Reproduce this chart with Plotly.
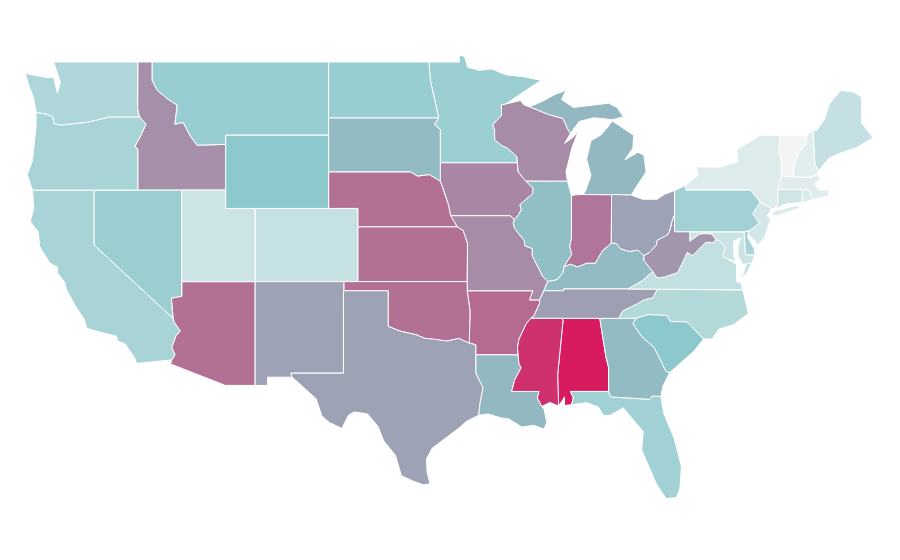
import plotly.graph_objects as go
from plotly.colors import sample_colorscale

# the geo base map has to be fetched from a CDN, so the outlines are kept here in lon/lat
# and drawn on plain linear axes (the reference map is a stretched equirectangular one)

colorscale = [[0, "#f5f5f5"], [0.45, "#8cc8cc"], [1, "#d81b60"]]

state_codes = ["AL", "AZ", "AR", "CA", "CO", "CT", "DE", "FL", "GA", "ID", "IL", "IN", "IA", "KS", "KY", "LA",
               "ME", "MD", "MA", "MI", "MN", "MS", "MO", "MT", "NE", "NV", "NH", "NJ", "NM", "NY", "NC", "ND",
               "OH", "OK", "OR", "PA", "RI", "SC", "SD", "TN", "TX", "UT", "VT", "VA", "WA", "WV", "WI", "WY"]
state_values = [1.00, 0.73, 0.75, 0.33, 0.20, 0.16, 0.33, 0.36, 0.49, 0.63, 0.48, 0.71, 0.66, 0.73, 0.49, 0.50,
                0.21, 0.18, 0.09, 0.50, 0.38, 0.93, 0.64, 0.40, 0.73, 0.39, 0.08, 0.14, 0.57, 0.10, 0.28, 0.40,
                0.57, 0.73, 0.33, 0.36, 0.11, 0.45, 0.49, 0.58, 0.57, 0.17, 0.01, 0.22, 0.30, 0.61, 0.64, 0.45]

# shared borders, lon/lat
wa_or = [(-123.95, 46.25), (-123.2, 46.15), (-122.8, 46.0), (-122.75, 45.65), (-122.3, 45.55), (-121.2, 45.65),
         (-120.5, 45.7), (-119.3, 45.93), (-118.98, 46.0), (-116.92, 46.0)]
or_id = [(-116.92, 46.0), (-116.47, 45.6), (-116.85, 44.95), (-117.22, 44.4), (-117.03, 44.2), (-117.03, 42.0)]
id_mt = [(-116.05, 49.0), (-116.05, 48.0), (-115.7, 47.45), (-114.95, 46.95), (-114.35, 46.65), (-114.5, 45.6),
         (-113.95, 45.7), (-113.45, 44.95), (-113.0, 44.45), (-111.05, 44.5)]
ca_az = [(-114.63, 35.0), (-114.57, 34.8), (-114.14, 34.3), (-114.43, 34.05), (-114.72, 33.4), (-114.5, 33.0),
         (-114.72, 32.72)]
tx_ok = [(-100.0, 34.56), (-99.2, 34.3), (-98.1, 34.1), (-97.5, 33.9), (-96.8, 33.85), (-96.0, 33.75), (-95.2, 33.9),
         (-94.48, 33.64)]
nd_mn = [(-97.23, 49.0), (-97.13, 48.0), (-96.85, 47.0), (-96.56, 45.94)]
sd_mn = [(-96.56, 45.94), (-96.85, 45.6), (-96.45, 45.3), (-96.45, 43.5)]
sd_ne = [(-98.5, 43.0), (-98.0, 42.77), (-97.2, 42.85), (-96.45, 42.49)]
ne_ia_mo = [(-96.45, 42.49), (-96.1, 41.7), (-95.9, 41.2), (-95.75, 40.6), (-95.31, 40.0)]
ks_mo = [(-95.31, 40.0), (-94.9, 39.8), (-94.6, 39.1), (-94.62, 37.0)]
mn_wi = [(-92.29, 46.66), (-92.29, 46.07), (-92.88, 45.57), (-92.76, 45.3), (-92.75, 44.75), (-92.3, 44.45),
         (-91.9, 44.3), (-91.25, 43.85), (-91.22, 43.5)]
ia_wi = [(-91.22, 43.5), (-91.15, 43.0), (-90.65, 42.5)]
ia_il = [(-90.65, 42.5), (-90.15, 42.1), (-90.18, 41.8), (-90.7, 41.45), (-91.05, 41.2), (-90.95, 40.95),
         (-91.1, 40.7), (-91.42, 40.38)]
mo_il = [(-91.42, 40.38), (-91.5, 40.2), (-91.4, 39.9), (-90.75, 39.25), (-90.7, 38.95), (-90.2, 38.8), (-90.2, 38.4),
         (-89.9, 37.9), (-89.5, 37.3), (-89.15, 37.0)]
mo_tn = [(-89.15, 37.0), (-89.4, 36.5), (-89.7, 36.0)]
tn_ar = [(-89.7, 36.0), (-89.7, 35.8), (-90.1, 35.1), (-90.3, 35.0)]
ar_ms = [(-90.3, 35.0), (-90.6, 34.7), (-90.9, 34.2), (-91.1, 33.85), (-91.2, 33.4), (-91.17, 33.0)]
la_ms = [(-91.17, 33.0), (-91.1, 32.5), (-90.95, 32.3), (-91.4, 31.6), (-91.6, 31.0), (-89.73, 31.0), (-89.85, 30.65),
         (-89.55, 30.18)]
tx_la = [(-94.04, 33.0), (-94.04, 32.0), (-93.55, 31.2), (-93.75, 30.4), (-93.85, 29.7)]
il_ky = [(-89.15, 37.0), (-88.5, 37.1), (-88.1, 37.5), (-88.05, 37.8)]
il_in = [(-88.05, 37.8), (-87.5, 38.5), (-87.65, 38.9), (-87.53, 39.35), (-87.53, 41.7)]
in_ky = [(-88.05, 37.8), (-87.6, 37.95), (-87.1, 37.8), (-86.5, 38.0), (-85.9, 38.0), (-85.7, 38.3), (-85.4, 38.7),
         (-84.82, 39.1)]
oh_ky = [(-84.82, 39.1), (-84.5, 39.1), (-84.2, 38.8), (-83.6, 38.65), (-83.0, 38.72), (-82.6, 38.42)]
oh_wv = [(-82.6, 38.42), (-82.2, 38.6), (-81.75, 39.0), (-81.7, 39.25), (-81.0, 39.55), (-80.85, 39.75), (-80.65, 40.4),
         (-80.52, 40.64)]
ky_wv = [(-82.6, 38.42), (-82.6, 38.15), (-82.0, 37.55)]
ky_va = [(-82.0, 37.55), (-82.7, 37.05), (-83.68, 36.6)]
ky_tn = [(-83.68, 36.6), (-88.07, 36.6), (-88.07, 36.5), (-89.4, 36.5)]
wv_va = [(-82.0, 37.55), (-81.7, 37.2), (-81.2, 37.25), (-80.3, 37.5), (-80.0, 38.0), (-79.65, 38.6), (-79.3, 38.42),
         (-78.87, 38.77), (-78.4, 39.15), (-77.83, 39.13), (-77.72, 39.32)]
wv_md = [(-77.72, 39.32), (-78.0, 39.6), (-78.4, 39.62), (-78.8, 39.6), (-79.05, 39.48), (-79.48, 39.2), (-79.48, 39.72)]
md_va = [(-76.3, 37.95), (-76.95, 38.25), (-77.25, 38.4), (-77.05, 38.85), (-77.45, 39.2), (-77.72, 39.32)]
tn_nc = [(-81.68, 36.59), (-82.0, 36.12), (-82.6, 36.0), (-83.1, 35.77), (-84.05, 35.4), (-84.32, 34.99)]
ga_sc = [(-83.11, 35.0), (-83.35, 34.7), (-82.75, 34.0), (-81.9, 33.4), (-81.4, 32.6), (-81.1, 32.1), (-80.85, 32.03)]
nc_sc = [(-83.11, 35.0), (-82.3, 35.2), (-81.05, 35.15), (-80.8, 34.82), (-79.67, 34.8), (-78.55, 33.86)]
al_ga = [(-85.6, 34.98), (-85.18, 32.87), (-85.0, 32.3), (-85.0, 31.0)]
al_ms = [(-88.2, 35.0), (-88.1, 34.9), (-88.47, 31.9), (-88.4, 30.2)]
al_fl = [(-85.0, 31.0), (-87.6, 31.0), (-87.4, 30.65), (-87.52, 30.28)]
ga_fl = [(-85.0, 31.0), (-84.86, 30.7), (-82.2, 30.57), (-82.05, 30.75), (-81.45, 30.72)]
pa_nj = [(-75.4, 39.8), (-74.75, 40.2), (-75.1, 40.55), (-75.2, 40.7), (-74.7, 41.35)]
vt_nh = [(-71.5, 45.0), (-71.6, 44.5), (-72.05, 44.1), (-72.4, 43.3), (-72.46, 42.73)]
mi_wi = [(-90.4, 46.55), (-89.1, 46.13), (-88.1, 45.9), (-87.8, 45.35), (-87.6, 45.1)]


def rev(points):
    return list(reversed(points))


state_outlines = {
    "WA": [[(-124.7, 48.38), (-123.2, 48.15), (-122.75, 48.15), (-122.5, 47.3), (-122.3, 47.9), (-122.5, 48.4),
            (-122.76, 49.0), (-117.03, 49.0), (-117.04, 46.42), *rev(wa_or), (-124.05, 46.7), (-124.1, 47.0),
            (-124.4, 47.6)]],
    "OR": [[*wa_or, *or_id, (-124.2, 42.0), (-124.55, 42.85), (-124.2, 43.6), (-124.05, 44.7), (-123.95, 45.5)]],
    "CA": [[(-124.2, 42.0), (-120.0, 42.0), (-120.0, 39.0), *ca_az, (-117.12, 32.53), (-117.25, 32.85), (-117.9, 33.6),
            (-118.4, 33.75), (-118.5, 34.03), (-119.2, 34.15), (-120.5, 34.45), (-120.65, 34.9), (-121.3, 35.7),
            (-121.9, 36.6), (-122.0, 36.95), (-122.5, 37.5), (-122.5, 37.8), (-123.0, 38.0), (-123.7, 38.9),
            (-123.8, 39.7), (-124.35, 40.3), (-124.1, 41.0)]],
    "NV": [[(-120.0, 42.0), (-114.04, 42.0), (-114.04, 36.2), (-114.75, 36.1), (-114.63, 35.0), (-120.0, 39.0)]],
    "ID": [[(-117.03, 49.0), *id_mt, (-111.05, 42.0), *rev(or_id), (-117.04, 46.42)]],
    "MT": [[*id_mt, (-111.05, 45.0), (-104.05, 45.0), (-104.05, 49.0)]],
    "WY": [[(-111.05, 45.0), (-104.05, 45.0), (-104.05, 41.0), (-111.05, 41.0)]],
    "UT": [[(-114.04, 42.0), (-111.05, 42.0), (-111.05, 41.0), (-109.05, 41.0), (-109.05, 37.0), (-114.04, 37.0)]],
    "CO": [[(-109.05, 41.0), (-102.05, 41.0), (-102.05, 37.0), (-109.05, 37.0)]],
    "AZ": [[(-114.04, 37.0), (-109.05, 37.0), (-109.05, 31.33), (-111.07, 31.33), (-114.8, 32.5), *rev(ca_az),
            (-114.75, 36.1), (-114.04, 36.2)]],
    "NM": [[(-109.05, 37.0), (-103.0, 37.0), (-103.04, 32.0), (-106.62, 32.0), (-106.53, 31.78), (-108.2, 31.78),
            (-108.2, 31.33), (-109.05, 31.33)]],
    "ND": [[(-104.05, 49.0), *nd_mn, (-104.05, 45.94)]],
    "SD": [[(-104.05, 45.94), *sd_mn, *rev(sd_ne), (-104.05, 43.0)]],
    "NE": [[(-104.05, 43.0), *sd_ne, *ne_ia_mo, (-102.05, 40.0), (-102.05, 41.0), (-104.05, 41.0)]],
    "KS": [[(-102.05, 40.0), *ks_mo, (-102.05, 37.0)]],
    "OK": [[(-103.0, 37.0), (-94.62, 37.0), (-94.62, 36.5), (-94.43, 35.4), *rev(tx_ok), (-100.0, 36.5),
            (-103.0, 36.5)]],
    "TX": [[(-103.04, 36.5), (-100.0, 36.5), *tx_ok, (-94.04, 33.55), *tx_la, (-94.7, 29.35), (-95.1, 29.05),
            (-96.0, 28.5), (-97.0, 27.9), (-97.4, 27.3), (-97.35, 26.6), (-97.15, 25.95), (-97.6, 25.9), (-98.3, 26.1),
            (-99.1, 26.4), (-99.5, 27.5), (-100.3, 28.3), (-100.7, 29.1), (-101.4, 29.77), (-102.3, 29.88),
            (-102.7, 29.7), (-103.15, 28.98), (-104.0, 29.3), (-104.5, 29.65), (-104.9, 30.6), (-106.0, 31.4),
            (-106.53, 31.78), (-106.62, 32.0), (-103.04, 32.0)]],
    "MN": [[(-97.23, 49.0), (-95.15, 49.0), (-95.15, 49.38), (-94.8, 49.3), (-94.6, 48.72), (-93.8, 48.55),
            (-92.95, 48.62), (-92.0, 48.3), (-90.8, 48.2), (-89.6, 48.0), (-90.9, 47.3), (-92.0, 46.7), *mn_wi,
            *rev(sd_mn), *rev(nd_mn)[:-1]]],
    "IA": [[(-96.45, 43.5), *ia_wi, *ia_il, (-91.7, 40.6), (-95.75, 40.6), (-95.9, 41.2), (-96.1, 41.7),
            (-96.45, 42.49), (-96.6, 43.1)]],
    "MO": [[(-95.75, 40.6), (-91.7, 40.6), *mo_il, *mo_tn, (-90.38, 36.0), (-90.15, 36.5), (-94.62, 36.5),
            *rev(ks_mo), ]],
    "AR": [[(-94.62, 36.5), (-90.15, 36.5), (-90.38, 36.0), *tn_ar, *ar_ms, (-94.04, 33.0), (-94.04, 33.55),
            (-94.48, 33.64), (-94.43, 35.4)]],
    "LA": [[(-94.04, 33.0), *la_ms, (-89.4, 30.05), (-89.2, 29.3), (-89.4, 28.95), (-90.1, 29.15), (-90.9, 29.05),
            (-91.8, 29.5), (-92.3, 29.55), (-93.2, 29.77), *rev(tx_la)]],
    "WI": [[(-92.29, 46.66), (-92.0, 46.7), (-91.0, 46.9), (-90.75, 46.65), *mi_wi, (-88.0, 44.55), (-87.4, 44.9),
            (-87.05, 45.25), (-87.5, 44.3), (-87.9, 43.0), (-87.8, 42.49), (-90.65, 42.5), *rev(ia_wi), *rev(mn_wi)]],
    "IL": [[(-90.65, 42.5), (-87.8, 42.49), (-87.53, 41.7), *rev(il_in), *rev(il_ky), *rev(mo_il), *rev(ia_il)]],
    "IN": [[(-87.53, 41.7), (-87.2, 41.75), (-86.8, 41.76), (-84.8, 41.76), (-84.82, 39.1), *rev(in_ky), *il_in]],
    "OH": [[(-84.8, 41.76), (-83.45, 41.73), (-82.7, 41.5), (-81.7, 41.5), (-81.2, 41.77), (-80.52, 41.98),
            (-80.52, 40.64), *rev(oh_wv), *rev(oh_ky)]],
    "MI": [[(-86.8, 41.76), (-84.8, 41.76), (-83.45, 41.73), (-83.1, 42.2), (-82.45, 43.0), (-82.6, 43.9),
            (-83.0, 44.07), (-83.9, 43.65), (-83.35, 44.3), (-83.3, 45.0), (-84.75, 45.78), (-85.1, 45.4),
            (-85.55, 45.0), (-86.2, 44.7), (-86.5, 43.7), (-86.2, 42.8), (-86.6, 41.9)],
           [*mi_wi, (-87.0, 45.75), (-86.0, 45.95), (-84.75, 45.85), (-84.0, 46.0), (-84.4, 46.5), (-85.0, 46.75),
            (-86.2, 46.65), (-87.4, 46.52), (-88.2, 46.95), (-87.9, 47.45), (-88.6, 47.25), (-89.5, 46.85)]],
    "KY": [[*ky_tn, *rev(mo_tn)[1:], *il_ky, *in_ky, *oh_ky, *ky_wv, *ky_va]],
    "TN": [[(-89.7, 36.0), (-89.4, 36.5), *rev(ky_tn)[1:], (-81.68, 36.59), *tn_nc, (-85.6, 34.98), (-88.2, 35.0),
            (-90.3, 35.0), *rev(tn_ar)]],
    "MS": [[(-90.3, 35.0), *al_ms, (-89.0, 30.4), *rev(la_ms), *rev(ar_ms)]],
    "AL": [[(-88.2, 35.0), *al_ga, *al_fl, (-88.0, 30.23), (-88.0, 30.7), *rev(al_ms)]],
    "GA": [[*al_ga, *ga_fl, (-81.3, 31.3), *rev(ga_sc)]],
    "FL": [[*al_fl, (-86.5, 30.38), (-85.7, 30.15), (-85.35, 29.68), (-84.9, 29.7), (-84.0, 30.1), (-83.4, 29.5),
            (-82.65, 28.8), (-82.75, 27.8), (-82.15, 26.7), (-81.75, 25.95), (-81.1, 25.15), (-80.4, 25.2),
            (-80.15, 25.7), (-80.05, 26.9), (-80.55, 28.45), (-81.25, 29.8), *rev(ga_fl)]],
    "SC": [[*ga_sc, (-79.9, 32.7), (-79.2, 33.2), *rev(nc_sc)]],
    "NC": [[*rev(tn_nc), (-75.87, 36.55), (-75.5, 35.25), (-76.5, 34.65), (-77.5, 34.4), (-77.95, 33.87),
            *rev(nc_sc)]],
    "VA": [[(-83.68, 36.6), (-81.68, 36.59), (-75.87, 36.55), (-76.0, 36.93), (-76.3, 37.0), (-76.3, 37.55), *md_va,
            *rev(wv_va), *ky_va],
           [(-75.95, 37.15), (-75.65, 37.95), (-75.25, 38.03), (-75.6, 37.5)]],
    "WV": [[*ky_wv[::-1], *oh_wv, (-80.52, 39.72), (-79.48, 39.72), *rev(wv_md), *rev(wv_va)]],
    "MD": [[(-79.48, 39.72), (-75.79, 39.72), (-75.7, 38.46), (-75.05, 38.45), (-75.25, 38.03), (-75.65, 37.95),
            (-75.9, 37.95), (-76.2, 38.4), (-76.2, 39.0), (-76.0, 39.4), (-76.5, 39.2), (-76.5, 38.5), (-76.35, 38.1),
            *md_va[1:], *wv_md]],
    "DE": [[(-75.79, 39.72), (-75.4, 39.8), (-75.55, 39.45), (-75.1, 38.8), (-75.05, 38.45), (-75.7, 38.46)]],
    "PA": [[(-80.52, 41.98), (-80.52, 39.72), (-75.79, 39.72), *pa_nj, (-75.35, 42.0), (-79.76, 42.0), (-79.76, 42.27)]],
    "NJ": [[(-73.9, 41.0), (-74.7, 41.35), *rev(pa_nj), (-75.55, 39.6), (-75.0, 39.2), (-74.9, 38.95), (-74.4, 39.4),
            (-74.0, 40.4), (-74.2, 40.6)]],
    "NY": [[(-79.76, 42.27), (-79.76, 42.0), (-75.35, 42.0), (-74.7, 41.35), (-73.9, 41.0), (-73.65, 41.0),
            (-73.5, 41.3), (-73.5, 42.05), (-73.27, 42.75), (-73.25, 43.6), (-73.4, 44.0), (-73.35, 45.0),
            (-74.7, 45.0), (-76.3, 44.2), (-76.2, 43.55), (-77.5, 43.25), (-79.05, 43.27), (-78.9, 42.85)],
           [(-74.0, 40.6), (-73.75, 40.85), (-72.3, 41.15), (-71.9, 41.05), (-73.5, 40.6)]],
    "VT": [[(-73.35, 45.0), *vt_nh, (-73.27, 42.75), (-73.25, 43.6), (-73.4, 44.0)]],
    "NH": [[*vt_nh, (-71.3, 42.7), (-70.85, 42.87), (-70.7, 43.07), (-70.97, 43.4), (-71.1, 45.3)]],
    "ME": [[(-71.1, 45.3), (-70.85, 45.25), (-70.3, 45.9), (-70.0, 46.7), (-69.2, 47.45), (-68.3, 47.35),
            (-67.8, 47.07), (-67.8, 45.7), (-67.45, 45.3), (-67.0, 44.85), (-68.2, 44.3), (-69.0, 44.1),
            (-70.0, 43.75), (-70.7, 43.07), (-70.97, 43.4)]],
    "MA": [[(-73.5, 42.05), (-73.27, 42.75), (-72.46, 42.73), (-71.3, 42.7), (-70.85, 42.87), (-70.6, 42.65),
            (-71.0, 42.3), (-70.6, 41.95), (-70.05, 42.05), (-70.0, 41.7), (-70.65, 41.55), (-71.12, 41.5),
            (-71.38, 42.02), (-71.8, 42.02), (-72.8, 42.03)]],
    "RI": [[(-71.8, 42.02), (-71.38, 42.02), (-71.12, 41.5), (-71.5, 41.37), (-71.85, 41.32)]],
    "CT": [[(-73.5, 42.05), (-71.8, 42.02), (-71.85, 41.32), (-72.9, 41.25), (-73.65, 41.0), (-73.5, 41.3)]],
}

fig = go.Figure()
for code, value in zip(state_codes, state_values):
    lons, lats = [], []
    for ring in state_outlines[code]:
        lons += [p[0] for p in ring] + [ring[0][0], None]
        lats += [p[1] for p in ring] + [ring[0][1], None]
    fig.add_trace(go.Scatter(
        x=lons, y=lats,
        mode="lines",
        fill="toself",
        fillcolor=sample_colorscale(colorscale, value)[0],
        line=dict(color="white", width=1),
        name=code,
        showlegend=False,
    ))

# the page has an 8px body margin, so 892x552 ends at the window edge
fig.update_layout(
    width=892, height=552,
    margin=dict(l=0, r=0, t=0, b=0),
    paper_bgcolor="white",
    plot_bgcolor="white",
    xaxis=dict(visible=False, range=[-125.86, -65.18]),
    yaxis=dict(visible=False, range=[21.79, 51.95]),
)
fig.write_html("out.html")
